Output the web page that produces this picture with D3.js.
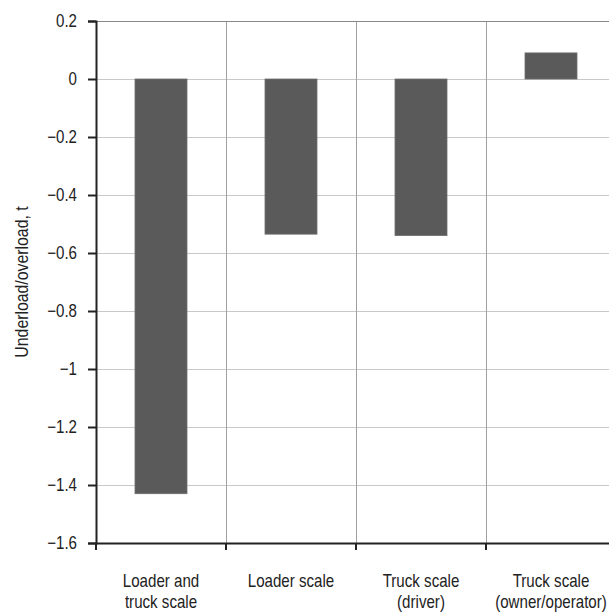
<!DOCTYPE html>
<html>
<head>
<meta charset="utf-8">
<script src="https://cdn.jsdelivr.net/npm/d3@7"></script>
<style>
  html, body { margin: 0; padding: 0; background: #fff; }
  svg text { font-family: "Liberation Sans", Arial, Helvetica, sans-serif; fill: #222; }
</style>
</head>
<body>
<svg id="chart" width="609" height="613"></svg>
<script>
// Categories (two-line labels) and underload/overload values in tonnes
const categories = ["Loader and truck scale", "Loader scale", "Truck scale (driver)", "Truck scale (owner/operator)"];
const categoryLines = [["Loader and", "truck scale"], ["Loader scale"], ["Truck scale", "(driver)"], ["Truck scale", "(owner/operator)"]];
const values = [-1.43, -0.535, -0.54, 0.09];
const yTicks = [0.2, 0, -0.2, -0.4, -0.6, -0.8, -1, -1.2, -1.4, -1.6];
const yLabel = "Underload/overload, t";

const svg = d3.select("#chart");
const plotL = 96, plotR = 616, plotT = 21, plotB = 543;
const squeeze = 0.84; // narrow lettering

const x = d3.scaleBand().domain(categories).range([plotL, plotR]).padding(0);
const y = d3.scaleLinear().domain([-1.6, 0.2]).range([plotB, plotT]);

const fmt = v => v === 0 ? "0" : (v < 0 ? "\u2212" : "") + String(Math.abs(v));

// Horizontal gridlines
svg.append("g").selectAll("line").data(yTicks.filter(v => v !== 0.2 && v !== -1.6)).join("line")
  .attr("x1", plotL).attr("x2", plotR)
  .attr("y1", d => Math.round(y(d)) + 0.5).attr("y2", d => Math.round(y(d)) + 0.5)
  .attr("stroke", "#c8c8c8").attr("stroke-width", 1.2);

// Vertical gridlines between categories
svg.append("g").selectAll("line").data(categories.slice(1)).join("line")
  .attr("x1", d => Math.round(x(d)) + 0.5).attr("x2", d => Math.round(x(d)) + 0.5)
  .attr("y1", plotT).attr("y2", plotB)
  .attr("stroke", "#a0a0a0").attr("stroke-width", 1);

// Top border of the plot area
svg.append("line")
  .attr("x1", plotL).attr("x2", plotR)
  .attr("y1", Math.round(y(0.2)) + 0.5).attr("y2", Math.round(y(0.2)) + 0.5)
  .attr("stroke", "#888").attr("stroke-width", 1.2);

// Bars
const barW = x.bandwidth() * 0.4;
svg.append("g").selectAll("rect").data(values).join("rect")
  .attr("x", (d, i) => x(categories[i]) + (x.bandwidth() - barW) / 2)
  .attr("width", barW)
  .attr("y", d => y(Math.max(0, d)))
  .attr("height", d => Math.abs(y(d) - y(0)))
  .attr("fill", "#5a5a5a")
  .attr("stroke", "#6e6e6e").attr("stroke-width", 0.8);

// Y axis
const yAxis = d3.axisLeft(y).tickValues(yTicks).tickFormat(fmt).tickSize(8).tickPadding(11);
const gy = svg.append("g").attr("transform", `translate(${plotL},0)`).call(yAxis);
gy.select(".domain").attr("stroke", "#222").attr("stroke-width", 2);
gy.selectAll(".tick line").attr("stroke", "#222").attr("stroke-width", 2);
gy.selectAll(".tick text")
  .attr("font-size", 18).attr("fill", "#222")
  .attr("x", -19 / squeeze)
  .attr("transform", `scale(${squeeze},1)`);

// X axis
const gx = svg.append("g").attr("transform", `translate(0,${plotB})`)
  .call(d3.axisBottom(x).tickSize(0).tickFormat(""));
gx.select(".domain").attr("stroke", "#222").attr("stroke-width", 2);
gx.selectAll(".tick").remove();
gx.selectAll("line.xtick").data(categories).join("line")
  .attr("class", "xtick")
  .attr("x1", d => x(d)).attr("x2", d => x(d))
  .attr("y1", 0).attr("y2", 7)
  .attr("stroke", "#222").attr("stroke-width", 2);

// Category labels
const lbl = svg.append("g").selectAll("text").data(categories).join("text")
  .attr("transform", d => `translate(${x(d) + x.bandwidth() / 2},587) scale(${squeeze},1)`)
  .attr("text-anchor", "middle")
  .attr("font-size", 18);
lbl.each(function (d, i) {
  d3.select(this).selectAll("tspan").data(categoryLines[i]).join("tspan")
    .attr("x", 0)
    .attr("dy", (t, j) => j === 0 ? 0 : 21)
    .text(t => t);
});

// Y axis title
svg.append("text")
  .attr("transform", `translate(28,282) rotate(-90) scale(0.88,1)`)
  .attr("text-anchor", "middle")
  .attr("font-size", 18)
  .text(yLabel);
</script>
</body>
</html>
